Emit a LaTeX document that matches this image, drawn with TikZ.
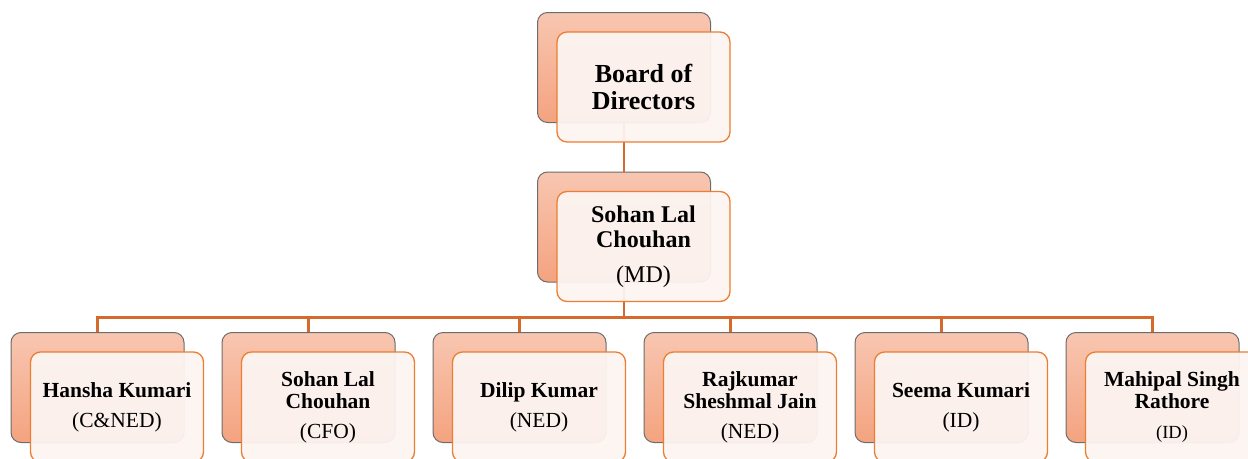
\documentclass[tikz,border=0pt]{standalone}
\usepackage{fontspec}
\setmainfont{Liberation Serif}
\usetikzlibrary{positioning}

\definecolor{backtop}{RGB}{248,198,177}
\definecolor{backbot}{RGB}{244,163,127}
\definecolor{frontfill}{RGB}{252,244,241}
\definecolor{frontline}{RGB}{237,125,49}
\definecolor{linkcol}{RGB}{212,106,44}

\tikzset{
  backbox/.style={draw=gray!85!black, line width=1pt, rounded corners=10pt,
    top color=backtop, bottom color=backbot,
    minimum width=173pt, minimum height=110pt, inner sep=0pt},
  frontbox/.style={draw=frontline, line width=1.3pt, rounded corners=10pt,
    fill=frontfill, fill opacity=0.95, text opacity=1,
    minimum width=173pt, minimum height=110pt, inner sep=0pt, align=center},
  link/.style={draw=linkcol, line width=2.5pt}
}

\newcommand{\rolefont}{\mdseries\fontsize{21.5}{22}\selectfont}

\begin{document}
\begin{tikzpicture}[x=1pt,y=-1pt]
\useasboundingbox (0,0) rectangle (1248,458);
\clip (0,0) rectangle (1248,458);

% back boxes
\node[backbox] (bodback) at (624,67.5) {};
\node[backbox] (mdback) at (624,227) {};
\foreach \i in {1,...,6}
  \node[backbox] (back\i) at ({97.5+211*(\i-1)},387.5) {};

% connectors
\draw[link] (bodback.south) -- (mdback.north);
\foreach \i in {1,...,6}
  \draw[link] (mdback.south) -- ++(0,35) -| (back\i.north);

% front boxes
\node[frontbox, font=\bfseries\fontsize{26}{27}\selectfont] (bod)
  at ([shift={(19.5,19.5)}]bodback.center) {Board of\\Directors};
\node[frontbox, font=\bfseries\fontsize{24}{25.5}\selectfont] (md)
  at ([shift={(19.5,19.5)}]mdback.center)
  {Sohan Lal\\Chouhan\\[9.5pt]{\mdseries\fontsize{24}{25.5}\selectfont(MD)}};

\foreach \i/\name/\role in {
    1/{Hansha Kumari}/{\rolefont(C\&NED)},
    2/{Sohan Lal\\Chouhan}/{\rolefont(CFO)},
    3/{Dilip Kumar}/{\rolefont(NED)},
    4/{Rajkumar\\Sheshmal Jain}/{\rolefont(NED)},
    5/{Seema Kumari}/{\rolefont(ID)},
    6/{Mahipal Singh\\Rathore}/{\mdseries\fontsize{18.5}{22}\selectfont(ID)}}
  \node[frontbox, font=\bfseries\fontsize{21.5}{22}\selectfont] (member\i)
    at ([shift={(19.5,19.5)}]back\i.center) {\name\\[8pt]\role};
\end{tikzpicture}
\end{document}
